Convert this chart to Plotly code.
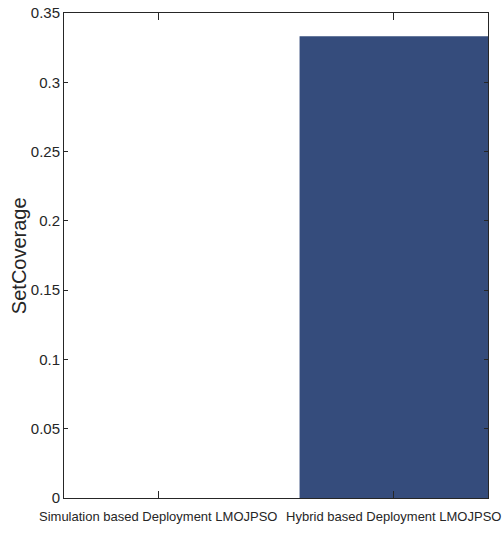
import plotly.graph_objects as go

categories = ["Simulation based Deployment LMOJPSO", "Hybrid based Deployment LMOJPSO"]
set_coverage = [0.0, 0.3333]
y_tick_vals = [0, 0.05, 0.1, 0.15, 0.2, 0.25, 0.3, 0.35]
y_tick_text = ["0", "0.05", "0.1", "0.15", "0.2", "0.25", "0.3", "0.35"]
y_title = "SetCoverage"

axis_color = "#262626"
sans = "Liberation Sans, Arial, Helvetica, sans-serif"

fig = go.Figure(
    go.Bar(
        x=categories,
        y=set_coverage,
        width=0.8,
        marker=dict(color="#354c7c", line=dict(width=0)),
    )
)

fig.update_layout(
    width=502,
    height=533,
    margin=dict(l=64, r=14, t=13, b=35, autoexpand=False),
    paper_bgcolor="white",
    plot_bgcolor="white",
    showlegend=False,
    font=dict(family=sans, size=15, color=axis_color),
    annotations=[
        dict(
            text=y_title,
            textangle=-90,
            xref="paper",
            yref="paper",
            x=-0.107,
            y=0.5,
            xanchor="center",
            yanchor="middle",
            showarrow=False,
            font=dict(family=sans, size=20, color=axis_color),
        )
    ],
)

fig.update_xaxes(
    type="category",
    range=[-0.4, 1.4],
    automargin=False,
    showline=True,
    linecolor=axis_color,
    linewidth=1,
    mirror="ticks",
    ticks="inside",
    ticklen=7,
    tickcolor=axis_color,
    tickangle=0,
    ticklabelstandoff=6,
    tickfont=dict(family=sans, size=13, color=axis_color),
    showgrid=False,
    zeroline=False,
)

fig.update_yaxes(
    range=[0, 0.35],
    automargin=False,
    tickvals=y_tick_vals,
    ticktext=y_tick_text,
    showline=True,
    linecolor=axis_color,
    linewidth=1,
    mirror="ticks",
    ticks="inside",
    ticklen=4,
    tickcolor=axis_color,
    tickfont=dict(family=sans, size=15, color=axis_color),
    showgrid=False,
    zeroline=False,
)

fig.write_html("out.html")
